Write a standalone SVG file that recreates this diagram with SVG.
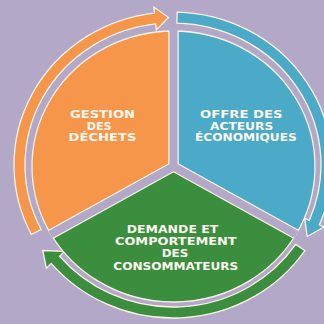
<svg xmlns="http://www.w3.org/2000/svg" width="324" height="324" viewBox="0 0 324 324">
<style>
.bg{fill:#b4a8c8}
.sec{stroke:#fbf3e6;stroke-width:1.3}
.orange{fill:#f5964a}
.blue{fill:#4aaac7}
.green{fill:#3a8e3e}
.lbl{font-family:"DejaVu Sans","Liberation Sans",sans-serif;font-weight:bold;font-size:9.8px;fill:#fdf8f0;text-anchor:middle}
.lbg{font-size:10.4px}
.gapw{stroke:#fbf3e6;stroke-width:10.5;fill:none}
.gapl{stroke:#b4a8c8;stroke-width:8;fill:none}
</style>
<rect class="bg" x="0" y="0" width="324" height="324"/>
<g id="connectors">
  <path class="orange sec" d="M41.13,229.47 L31.33,234.46 A159,153 0 0 1 154.45,13.04 L153.86,7.08 L168.45,17.56 L156.31,29.92 L155.73,23.97 A148,142 0 0 0 41.13,229.47 Z"/>
  <path class="blue sec" d="M176.87,23.05 L177.16,12.05 A159,153 0 0 1 319.36,224.78 L323.96,227.13 L307.25,236.51 L304.63,218.14 L309.23,220.48 A148,142 0 0 0 176.87,23.05 Z"/>
  <path class="green sec" d="M295.70,244.40 L304.82,250.56 A159,153 0 0 1 51.20,263.35 L46.37,268.20 L42.74,250.48 L64.46,251.42 L59.63,256.28 A148,142 0 0 0 295.70,244.40 Z"/>
</g>
<g id="gestion">
  <path class="orange sec" d="M173.5,166.5 L50.96,234.25 A141.5,135.5 0 0 1 173.5,31 Z"/>
</g>
<g id="offre">
  <path class="blue sec" d="M173.5,166.5 L173.5,31 A141.5,135.5 0 0 1 296.04,234.25 Z"/>
</g>
<g id="demande">
  <path class="green sec" d="M173.5,166.5 L296.04,234.25 A141.5,135.5 0 0 1 50.96,234.25 Z"/>
</g>
<g id="gaps">
  <path class="gapw" d="M173.5,166.5 L173.5,31 M173.5,166.5 L50.96,234.25 M173.5,166.5 L296.04,234.25"/>
  <circle cx="173.5" cy="166.5" r="5.25" fill="#fbf3e6"/>
  <path class="gapl" d="M173.5,166.5 L173.5,30 M173.5,166.5 L50.5,234.5 M173.5,166.5 L296.5,234.5"/>
  <circle cx="173.5" cy="166.5" r="4" fill="#b4a8c8"/>
</g>
<g id="labels">
  <text class="lbl" x="102.5" y="118.3" textLength="65" lengthAdjust="spacingAndGlyphs">GESTION</text>
  <text class="lbl" x="99.2" y="129.7" textLength="25" lengthAdjust="spacingAndGlyphs">DES</text>
  <text class="lbl" x="102.5" y="141.1" textLength="68" lengthAdjust="spacingAndGlyphs">DÉCHETS</text>
  <text class="lbl" x="241.3" y="118.3" textLength="82.7" lengthAdjust="spacingAndGlyphs">OFFRE DES</text>
  <text class="lbl" x="241.6" y="129.7" textLength="63.3" lengthAdjust="spacingAndGlyphs">ACTEURS</text>
  <text class="lbl" x="245.9" y="141.1" textLength="101.7" lengthAdjust="spacingAndGlyphs">ÉCONOMIQUES</text>
  <text class="lbl lbg" x="172.5" y="232.7" textLength="91.6" lengthAdjust="spacingAndGlyphs">DEMANDE ET</text>
  <text class="lbl lbg" x="175.8" y="245" textLength="121.7" lengthAdjust="spacingAndGlyphs">COMPORTEMENT</text>
  <text class="lbl lbg" x="175" y="257.3" textLength="26.7" lengthAdjust="spacingAndGlyphs">DES</text>
  <text class="lbl lbg" x="175.8" y="269.6" textLength="125" lengthAdjust="spacingAndGlyphs">CONSOMMATEURS</text>
</g>
</svg>
